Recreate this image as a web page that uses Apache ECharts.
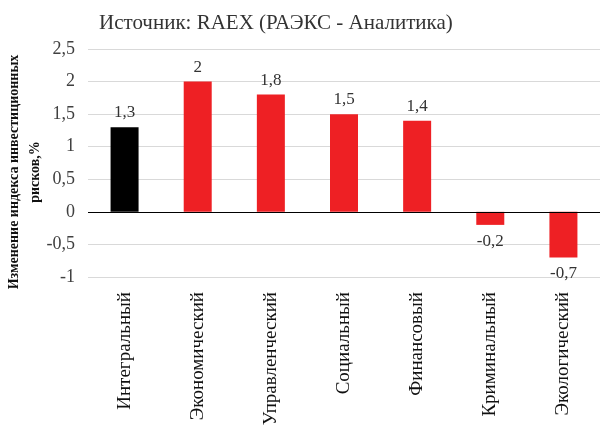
<!DOCTYPE html>
<html><head><meta charset="utf-8">
<script src="https://cdn.jsdelivr.net/npm/echarts@6/dist/echarts.min.js"></script>
<style>html,body{margin:0;padding:0;background:#fff}#c{width:600px;height:431px}</style>
</head><body><div id="c"></div>
<script>
const categories = ['Интегральный','Экономический','Управленческий','Социальный','Финансовый','Криминальный','Экологический'];
const values = [1.3, 2, 1.8, 1.5, 1.4, -0.2, -0.7];
const yTicks = {min: -1, max: 2.5, interval: 0.5};
const titleText = 'Источник: RAEX (РАЭКС - Аналитика)';
const yName = 'Изменение индекса инвестиционных\nрисков,%';

const F = 'Liberation Serif';
const fmt = v => String(v).replace('.', ',');
const chart = echarts.init(document.getElementById('c'), null, {renderer: 'canvas'});
chart.setOption({
  animation: false,
  backgroundColor: '#fff',
  title: {text: titleText, left: 94, top: 8,
    textStyle: {fontFamily: F, fontSize: 21, fontWeight: 'normal', color: '#333'}},
  grid: {left: 88, right: 0, top: 49, bottom: 154, containLabel: false, outerBoundsMode: 'none'},
  xAxis: {
    type: 'category', data: categories,
    axisLine: {show: false, onZero: false}, axisTick: {show: false},
    axisLabel: {rotate: 90, margin: 15, fontFamily: F, fontSize: 19, color: '#111', interval: 0}
  },
  yAxis: {
    type: 'value', min: yTicks.min, max: yTicks.max, interval: yTicks.interval,
    name: yName, nameLocation: 'middle', nameGap: 42, nameRotate: 90, nameMoveOverlap: false,
    nameTextStyle: {fontFamily: F, fontSize: 14, fontWeight: 'bold', color: '#111', lineHeight: 21, align: 'center', padding: [0, 18, 0, 0]},
    axisLine: {show: false}, axisTick: {show: false},
    axisLabel: {margin: 13, fontFamily: F, fontSize: 18, color: '#404040', formatter: fmt},
    splitLine: {lineStyle: {color: '#d9d9d9', width: 1}}
  },
  series: [{
    type: 'bar', barWidth: 28,
    data: values.map((v, i) => ({
      value: v,
      itemStyle: {color: i === 0 ? '#000000' : '#ee2024'},
      label: {position: v < 0 ? 'bottom' : 'top', distance: v < 0 ? 8 : 6}
    })),
    label: {show: true, fontFamily: F, fontSize: 17, color: '#333', formatter: p => fmt(p.value)},
    markLine: {silent: true, symbol: 'none', label: {show: false},
      lineStyle: {color: '#000', type: 'solid', width: 1},
      data: [{yAxis: 0}]}
  }]
});
</script></body></html>
